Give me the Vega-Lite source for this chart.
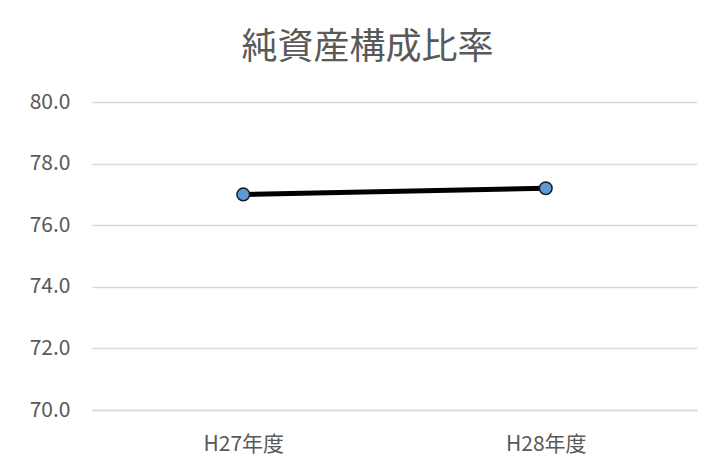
{
  "$schema": "https://vega.github.io/schema/vega-lite/v6.json",
  "width": 605,
  "height": 308,
  "autosize": "none",
  "padding": {"left": 92, "top": 102, "right": 28, "bottom": 56},
  "background": "white",
  "title": {
    "text": "純資産構成比率",
    "font": "Noto Sans CJK JP",
    "fontSize": 36,
    "fontWeight": "normal",
    "color": "#595959",
    "anchor": "middle",
    "dx": -27,
    "offset": 24
  },
  "data": {
    "values": [
      {"year": "H27年度", "value": 77.0},
      {"year": "H28年度", "value": 77.2}
    ]
  },
  "encoding": {
    "x": {
      "field": "year",
      "type": "nominal",
      "sort": null,
      "scale": {"type": "point", "padding": 0.5},
      "axis": {
        "title": null,
        "labelAngle": 0,
        "domain": true,
        "domainColor": "#d9d9d9",
        "domainWidth": 1.5,
        "ticks": false,
        "grid": false,
        "labelFont": "Noto Sans CJK JP",
        "labelFontSize": 21,
        "labelColor": "#595959",
        "labelPadding": 23
      }
    },
    "y": {
      "field": "value",
      "type": "quantitative",
      "scale": {"domain": [70, 80], "nice": false, "zero": false},
      "axis": {
        "title": null,
        "values": [70, 72, 74, 76, 78, 80],
        "format": ".1f",
        "domain": false,
        "ticks": false,
        "grid": true,
        "gridColor": "#d9d9d9",
        "gridWidth": 1.5,
        "labelFont": "Noto Sans CJK JP",
        "labelFontSize": 21,
        "labelColor": "#595959",
        "labelPadding": 22
      }
    }
  },
  "layer": [
    {"mark": {"type": "line", "color": "black", "strokeWidth": 5}},
    {"mark": {"type": "point", "filled": true, "fill": "#5b9bd5", "stroke": "#1a1a1a", "strokeWidth": 1.5, "size": 160, "opacity": 1}}
  ],
  "config": {"view": {"stroke": null}}
}
